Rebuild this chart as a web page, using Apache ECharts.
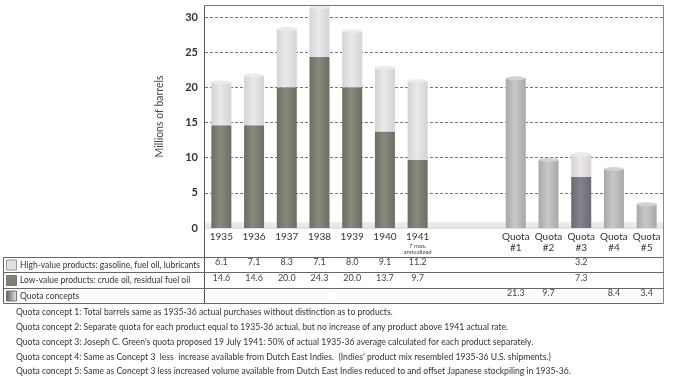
<!DOCTYPE html>
<html><head><meta charset="utf-8">
<script src="https://cdn.jsdelivr.net/npm/echarts@6/dist/echarts.min.js"></script>
<style>html,body{margin:0;padding:0;background:#fff}#c{width:678px;height:378px}</style>
</head><body><div id="c"></div>
<script>
const years = ['1935','1936','1937','1938','1939','1940','1941'];
const quotas = ['#1','#2','#3','#4','#5'];
const highYears = [6.1, 7.1, 8.3, 7.1, 8.0, 9.1, 11.2];
const lowYears = [14.6, 14.6, 20.0, 24.3, 20.0, 13.7, 9.7];
const highQuotas = [null, null, 3.2, null, null];
const lowQuotas = [null, null, 7.3, null, null];
const quotaValues = [21.3, 9.7, null, 8.4, 3.4];
const yTicks = [0, 5, 10, 15, 20, 25, 30];
const rowLabels = [
  'High-value products: gasoline, fuel oil, lubricants',
  'Low-value products: crude oil, residual fuel oil',
  'Quota concepts'
];
const footnotes = [
  'Quota concept 1: Total barrels same as 1935-36 actual purchases without distinction as to products.',
  'Quota concept 2: Separate quota for each product equal to 1935-36 actual, but no increase of any product above 1941 actual rate.',
  "Quota concept 3: Joseph C. Green's quota proposed 19 July 1941: 50% of actual 1935-36 average calculated for each product separately.",
  "Quota concept 4: Same as Concept 3  less  increase available from Dutch East Indies.  (Indies' product mix resembled 1935-36 U.S. shipments.)",
  'Quota concept 5: Same as Concept 3 less increased volume available from Dutch East Indies reduced to and offset Japanese stockpiling in 1935-36.'
];

const FONT = 'Lato';
const gaps = ['gap1', 'gap2'];
const cats = years.concat(gaps, quotas.map(q => 'Q' + q));
const blank = [null, null];
const high = highYears.concat(blank, highQuotas);
const low = lowYears.concat(blank, lowQuotas);
const quota = years.map(() => null).concat(blank, quotaValues);
const totals = cats.map((c, i) => {
  if (quota[i] != null) return quota[i];
  if (high[i] == null && low[i] == null) return null;
  return +((high[i] || 0) + (low[i] || 0)).toFixed(1);
});

function cyl(edge, mid) {
  return new echarts.graphic.LinearGradient(0, 0, 1, 0, [
    {offset: 0, color: edge}, {offset: 0.45, color: mid}, {offset: 1, color: edge}
  ]);
}
const cLow = cyl('#6c6e62', '#878a7c');
const cLowQ = cyl('#6d6a74', '#858290');
const cHigh = cyl('#d6d2d5', '#ebe8ea');
const cQuota = cyl('#a9a7aa', '#c9c7ca');

function catLabel(v) {
  if (v.indexOf('gap') === 0) return '';
  if (v === '1941') return '{a|1941}\n{s|7 mos.}\n{s|annualized}';
  if (v[0] === 'Q') return '{a|Quota}\n{a|' + v.slice(1) + '}';
  return '{a|' + v + '}';
}
function fmt(v) { return v == null ? '' : v.toFixed(1); }

const rowAxis = (arr, offset) => ({
  type: 'category', data: cats, position: 'bottom', offset: offset,
  axisLine: {show: false}, axisTick: {show: false}, splitLine: {show: false},
  axisLabel: {interval: 0, margin: 0, fontFamily: FONT, fontSize: 9, color: '#444',
    formatter: (v, i) => fmt(arr[i])}
});

const gl = 204.5, gr = 663.5, gt = 5.5;
const tRows = [257.5, 272.5, 288.5, 303.5];
const g = [];
g.push({type: 'rect', z: 1, shape: {x: gl, y: 222, width: gr - gl, height: 7},
  style: {fill: new echarts.graphic.LinearGradient(0, 0, 0, 1, [
    {offset: 0, color: '#eeeeee'}, {offset: 1, color: '#e2e2e2'}])}});
g.push({type: 'line', z: 50, shape: {x1: gl, y1: gt, x2: gr, y2: gt}, style: {stroke: '#777', lineWidth: 1}});
g.push({type: 'line', z: 50, shape: {x1: gr, y1: gt, x2: gr, y2: tRows[3]}, style: {stroke: '#888', lineWidth: 1}});
g.push({type: 'line', z: 50, shape: {x1: gl, y1: gt, x2: gl, y2: tRows[3]}, style: {stroke: '#555', lineWidth: 1}});
tRows.forEach(y => g.push({type: 'line', z: 50, shape: {x1: 3.5, y1: y, x2: gr, y2: y}, style: {stroke: '#666', lineWidth: 1}}));
g.push({type: 'line', z: 50, shape: {x1: 3.5, y1: tRows[0], x2: 3.5, y2: tRows[3]}, style: {stroke: '#666', lineWidth: 1}});
const swatches = [
  {fill: '#e4e1e3', stroke: '#999'},
  {fill: '#7f8274', stroke: '#777'},
  {fill: new echarts.graphic.LinearGradient(0, 0, 1, 0, [{offset: 0, color: '#555'}, {offset: 1, color: '#eee'}]), stroke: '#777'}
];
rowLabels.forEach((t, i) => {
  const top = tRows[i], bot = tRows[i + 1];
  const cy = (top + bot) / 2;
  g.push({type: 'rect', z: 50, shape: {x: 6.5, y: cy - 5, width: 10, height: 10}, style: swatches[i]});
  g.push({type: 'text', z: 50, x: 20, y: cy, style: {text: t, font: '8.5px ' + FONT, fill: '#333',
    verticalAlign: 'middle', textVerticalAlign: 'middle'}});
});
footnotes.forEach((t, i) => {
  g.push({type: 'text', z: 50, x: 16, y: 312.5 + i * 14.8, style: {text: t, font: '8.6px ' + FONT, fill: '#333',
    verticalAlign: 'middle', textVerticalAlign: 'middle'}});
});

const chart = echarts.init(document.getElementById('c'), null, {renderer: 'canvas'});
chart.setOption({
  animation: false,
  backgroundColor: '#fff',
  grid: {left: 205, right: 15, top: 5, bottom: 150, containLabel: false},
  xAxis: [
    {type: 'category', data: cats, position: 'bottom',
      axisLine: {show: false}, axisTick: {show: false}, splitLine: {show: false},
      axisLabel: {interval: 0, margin: 4, formatter: catLabel, fontFamily: FONT, color: '#333',
        rich: {a: {fontSize: 10, lineHeight: 10.5, fontFamily: FONT, color: '#333'},
               s: {fontSize: 6, lineHeight: 6.5, fontFamily: FONT, color: '#444'}}}},
    rowAxis(high, 30),
    rowAxis(low, 46),
    rowAxis(quota, 61)
  ],
  yAxis: {
    type: 'value', min: 0, max: 31.7, interval: 5,
    name: 'Millions of barrels', nameLocation: 'middle', nameGap: 40,
    nameTextStyle: {fontFamily: FONT, fontSize: 10.5, color: '#444'},
    axisLine: {show: false}, axisTick: {show: false},
    axisLabel: {showMaxLabel: false, margin: 7, fontFamily: FONT, fontWeight: 'bold', fontSize: 11, color: '#333',
      formatter: v => yTicks.indexOf(v) >= 0 ? String(v) : ''},
    splitLine: {show: true, lineStyle: {color: '#555', width: 0.8, type: [3, 2]}}
  },
  series: [
    {name: 'Low-value', type: 'bar', stack: 'a', barWidth: 20, z: 3,
      data: low.map((v, i) => (v != null && cats[i][0] === 'Q') ? {value: v, itemStyle: {color: cLowQ}} : v),
      itemStyle: {color: cLow}},
    {name: 'High-value', type: 'bar', stack: 'a', barWidth: 20, data: high, itemStyle: {color: cHigh}, z: 3},
    {name: 'Quota', type: 'bar', stack: 'a', barWidth: 20, data: quota, itemStyle: {color: cQuota}, z: 3},
    {name: 'caps', type: 'pictorialBar', symbol: 'circle', symbolSize: [20, 4], symbolPosition: 'end',
      symbolOffset: [0, '-50%'], z: 5, silent: true,
      data: totals.map((v, i) => v == null ? null : {value: v,
        itemStyle: quota[i] != null ? {color: '#d2d0d3', borderColor: '#aaa', borderWidth: 0.6}
                                    : {color: '#eeeaec', borderColor: '#666', borderWidth: 0.7}})}
  ],
  graphic: g
});
</script></body></html>
